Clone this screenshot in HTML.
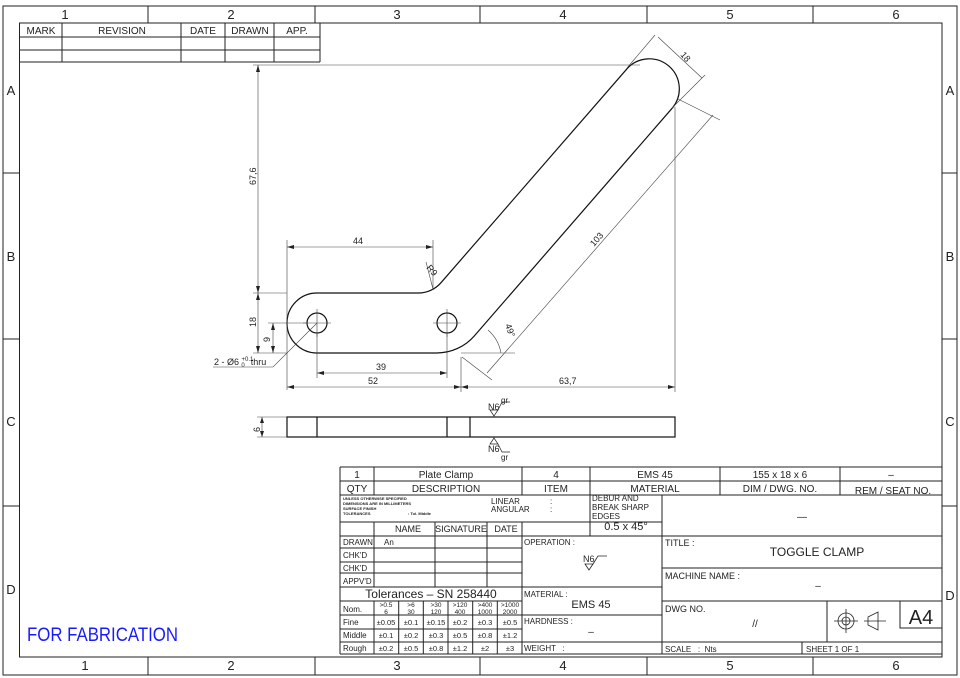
<!DOCTYPE html>
<html><head><meta charset="utf-8"><style>
html,body{margin:0;padding:0;background:#fff;}
svg{display:block;font-family:"Liberation Sans",sans-serif;}
text{fill:#222;}
</style></head><body>
<svg width="960" height="678" viewBox="0 0 960 678" xmlns="http://www.w3.org/2000/svg">
<g fill="none" stroke="#222" stroke-width="1">
<rect x="3" y="6" width="954" height="669"/>
<rect x="19.5" y="23" width="922.5" height="634"/>
<path d="M148 6V23M315 6V23M480 6V23M647 6V23M813 6V23M148 657V675M315 657V675M480 657V675M647 657V675M813 657V675"/>
<path d="M3 173H19.5M3 339H19.5M3 506H19.5M942 173H957M942 339H957M942 506H957"/>
<path d="M19.5 37H320M19.5 50H320M19.5 62H320M320 23V62M62 23V62M181 23V62M225 23V62M274 23V62"/>
</g>
<g font-size="13" text-anchor="middle">
<text x="65" y="19">1</text><text x="231" y="19">2</text><text x="397" y="19">3</text><text x="563" y="19">4</text><text x="730" y="19">5</text><text x="896" y="19">6</text>
<text x="85" y="670">1</text><text x="231" y="670">2</text><text x="397" y="670">3</text><text x="563" y="670">4</text><text x="730" y="670">5</text><text x="896" y="670">6</text>
<text x="11" y="95">A</text><text x="11" y="261">B</text><text x="11" y="426">C</text><text x="11" y="594">D</text>
<text x="950" y="95">A</text><text x="950" y="261">B</text><text x="950" y="426">C</text><text x="950" y="600">D</text>
</g>
<g font-size="10" text-anchor="middle">
<text x="41" y="34">MARK</text><text x="122" y="34">REVISION</text><text x="203" y="34">DATE</text><text x="250" y="34">DRAWN</text><text x="297" y="34">APP.</text>
</g>

<g fill="none" stroke="#111" stroke-width="1.2">
<path d="M317 293 L418.3 293 A30 30 0 0 0 441 282.7 L627.4 68.3 A30 30 0 0 1 672.6 107.7 L474.6 335.6 A50 50 0 0 1 436.5 353 L317 353 A30 30 0 0 1 317 293 Z"/>
<circle cx="317" cy="323" r="10"/><circle cx="447" cy="323" r="10"/>
<rect x="287" y="417" width="388" height="20"/>
<path d="M317 417V437M447 417V437M470 417V437"/>
</g>
<g fill="none" stroke="#444" stroke-width="0.6">
<path d="M303 323H331M317 309V337M433 323H461M447 309V337"/>
<path d="M258 65V293M253 65H640M253 293H287"/>
<path d="M258 293V353M253 353H287M273 323V353M268 323H307"/>
<path d="M287 247H433M287 240V390M433 240V290"/>
<path d="M317 373H447M317 333V378M447 333V378M287 387H461M461 357V392M461 387H675M675 107V392"/>
<path d="M317 323L273 367H213"/>
<path d="M426 262L433 289"/>
<path d="M658 37L702 78M627 68L655 35M672 108L705 75"/>
<path d="M713 115L487 373M678 99L720 120M462 357L492 380"/>
<path d="M461 353H515M488 330A40 40 0 0 1 501 353"/>
<path d="M262 417V437M257 417H287M257 437H287"/>
</g>
<g fill="#222" stroke="none">
<path d="M258 65l-2 7h4zM258 293l-2 -7h4zM258 293l-2 7h4zM258 353l-2 -7h4zM273 323l-2 7h4zM273 353l-2 -7h4z"/>
<path d="M287 247l7 -2v4zM433 247l-7 -2v4zM317 373l7 -2v4zM447 373l-7 -2v4zM287 387l7 -2v4zM461 387l-7 -2v4zM461 387l7 -2v4zM675 387l-7 -2v4zM262 417l-2 6h4zM262 437l-2 -6h4z"/>
</g>
<g font-size="9" fill="#222">
<text x="0" y="0" transform="translate(256,185) rotate(-90)">67,6</text>
<text x="0" y="0" transform="translate(256,327) rotate(-90)">18</text>
<text x="0" y="0" transform="translate(270,342) rotate(-90)">9</text>
<text x="0" y="0" transform="translate(260,432) rotate(-90)">6</text>
<text x="353" y="244">44</text>
<text x="376" y="370">39</text>
<text x="368" y="384">52</text>
<text x="559" y="384">63,7</text>
<text x="214" y="365">2 - Ø6 <tspan font-size="6" dy="-4">+0.1</tspan><tspan font-size="6" dx="-12" dy="6">0</tspan><tspan dy="-2" dx="6">thru</tspan></text>
<text x="0" y="0" transform="translate(426,268) rotate(49)">R9</text>
<text x="0" y="0" transform="translate(680,55) rotate(49)">18</text>
<text x="0" y="0" transform="translate(594,247) rotate(-49)">103</text>
<text x="0" y="0" transform="translate(505,325) rotate(70)">49°</text>
<text x="488" y="410">N6</text><text x="501" y="403" font-size="8">gr</text>
<text x="488" y="452">N6</text><text x="501" y="460" font-size="8">gr</text>
</g>
<g fill="none" stroke="#222" stroke-width="0.7">
<path d="M494 416L490 410H498ZM498 410L502 402H510"/>
<path d="M494 438L490 444H498ZM498 444L502 452H510"/>
</g>

<g fill="none" stroke="#222" stroke-width="1">
<path d="M340 467H942M340 467V654M340 481H942M340 495H942M340 654H942"/>
<path d="M374 467V495M522 467V495M590 467V536M720 467V495M840 467V495"/>
<path d="M340 522H662M340 536H662M340 548H522M340 562H522M340 573H522M340 587H662M340 601H522M340 615H662M340 629H522M340 642H942"/>
<path d="M374 522V587M435 522V587M487 522V587M522 522V654M662 495V654"/>
<path d="M374 601V654M398.7 601V654M423.3 601V654M448 601V654M472.7 601V654M497.3 601V654"/>
<path d="M662 536H942M662 568H942M662 601H942M827 601V642M900 601V628H942M802 642V654"/>
</g>
<g font-size="10" fill="#222" text-anchor="middle">
<text x="357" y="478">1</text><text x="446" y="478">Plate Clamp</text><text x="556" y="478">4</text><text x="655" y="478">EMS 45</text><text x="780" y="478">155 x 18 x 6</text><text x="891" y="478">–</text>
<text x="357" y="492">QTY</text><text x="446" y="492">DESCRIPTION</text><text x="556" y="492">ITEM</text><text x="655" y="492">MATERIAL</text><text x="780" y="492">DIM / DWG. NO.</text><text x="893" y="494">REM / SEAT NO.</text>
<text x="408" y="532" font-size="9">NAME</text><text x="461" y="532" font-size="9">SIGNATURE</text><text x="506" y="532" font-size="9">DATE</text>
<text x="626" y="530" font-size="11">0.5 x 45°</text>
<text x="802" y="520">—</text>
<text x="817" y="556" font-size="12">TOGGLE CLAMP</text>
<text x="818" y="589">–</text>
<text x="755" y="627">//</text>
<text x="431" y="598" font-size="12">Tolerances – SN 258440</text>
<text x="591" y="608" font-size="11">EMS 45</text>
<text x="591" y="635">–</text>
<text x="921" y="624" font-size="20" font-weight="300">A4</text>
</g>
<g font-size="8" fill="#222">
<text x="343" y="545">DRAWN</text><text x="384" y="545">An</text>
<text x="343" y="558">CHK'D</text><text x="343" y="571">CHK'D</text><text x="343" y="584">APPV'D</text>
<text x="343" y="612">Nom.</text><text x="343" y="625">Fine</text><text x="343" y="638">Middle</text><text x="343" y="651">Rough</text>
<text x="524" y="545">OPERATION :</text><text x="524" y="597">MATERIAL :</text><text x="524" y="624">HARDNESS :</text><text x="524" y="651">WEIGHT &#160;&#160;:</text>
<text x="592" y="501">DEBUR AND</text><text x="592" y="510">BREAK SHARP</text><text x="592" y="519">EDGES</text>
<text x="491" y="504">LINEAR</text><text x="491" y="512">ANGULAR</text><text x="550" y="504">:</text><text x="550" y="512">:</text>
<text x="665" y="546" font-size="9">TITLE :</text><text x="665" y="579" font-size="9">MACHINE NAME :</text><text x="665" y="612" font-size="9">DWG NO.</text>
<text x="665" y="652">SCALE &#160;&#160;: &#160;Nts</text><text x="806" y="652">SHEET 1 OF 1</text>
<text x="583" y="562" font-size="9">N6</text>
</g>
<g font-size="4" fill="#222" font-weight="bold">
<text x="343" y="500">UNLESS OTHERWISE SPECIFIED</text><text x="343" y="505">DIMENSIONS ARE IN MILLIMETERS</text><text x="343" y="510">SURFACE FINISH</text><text x="343" y="515">TOLERANCES</text><text x="408" y="515">: Tol. Middle</text>
</g>
<g font-size="6.5" fill="#222" text-anchor="middle">
<text x="386" y="607">&gt;0.5</text><text x="386" y="614">6</text>
<text x="411" y="607">&gt;6</text><text x="411" y="614">30</text>
<text x="436" y="607">&gt;30</text><text x="436" y="614">120</text>
<text x="460" y="607">&gt;120</text><text x="460" y="614">400</text>
<text x="485" y="607">&gt;400</text><text x="485" y="614">1000</text>
<text x="510" y="607">&gt;1000</text><text x="510" y="614">2000</text>
<g font-size="7.5">
<text x="386" y="625">±0.05</text><text x="411" y="625">±0.1</text><text x="436" y="625">±0.15</text><text x="460" y="625">±0.2</text><text x="485" y="625">±0.3</text><text x="510" y="625">±0.5</text>
<text x="386" y="638">±0.1</text><text x="411" y="638">±0.2</text><text x="436" y="638">±0.3</text><text x="460" y="638">±0.5</text><text x="485" y="638">±0.8</text><text x="510" y="638">±1.2</text>
<text x="386" y="651">±0.2</text><text x="411" y="651">±0.5</text><text x="436" y="651">±0.8</text><text x="460" y="651">±1.2</text><text x="485" y="651">±2</text><text x="510" y="651">±3</text></g>
</g>
<g fill="none" stroke="#222" stroke-width="0.8">
<path d="M589 570L585 564H593ZM593 564L598 556H607"/>
<circle cx="846" cy="621" r="8"/><circle cx="846" cy="621" r="4"/><path d="M834 621H858M846 609V633"/>
<path d="M868 617L878 612V630L868 625ZM864 621H886"/>
</g>
<text x="27" y="641" font-size="19" fill="#1a1aff" textLength="151" lengthAdjust="spacingAndGlyphs" style="fill:#1a1aff">FOR FABRICATION</text>
</svg>
</body></html>
